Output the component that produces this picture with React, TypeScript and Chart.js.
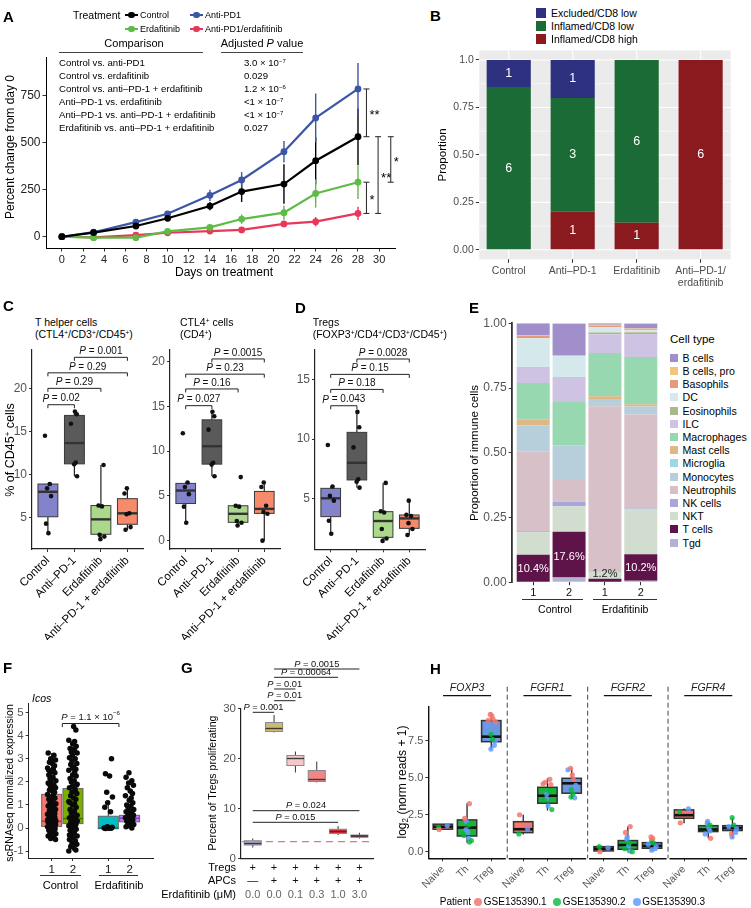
import React, { useEffect, useRef } from 'react';
import { Chart, registerables } from 'chart.js';

Chart.register(...registerables);

const FONT = "'Liberation Sans', Arial, Helvetica, sans-serif";
Chart.defaults.font.family = FONT;

// ======================= DATA =======================

// ---- Panel A: tumour growth ----
const A_TREATMENTS = ['Control', 'Anti-PD1', 'Erdafitinib', 'Anti-PD1/erdafitinib'];
const A_DAYS = [0, 3, 7, 10, 14, 17, 21, 24, 28];
const A_CONTROL = [0, 22, 57, 98, 163, 240, 280, 404, 532];
const A_ANTIPD1 = [0, 24, 78, 122, 220, 302, 452, 632, 786];
const A_ERDA = [0, -5, -5, 28, 50, 94, 128, 230, 290];
const A_COMBO = [0, -3, 9, 21, 30, 36, 68, 80, 124];
const A_CONTROL_SE = [0, 8, 12, 15, 22, 55, 105, 125, 150];
const A_ANTIPD1_SE = [0, 8, 10, 14, 30, 42, 57, 130, 138];
const A_ERDA_SE = [0, 5, 8, 10, 12, 25, 38, 75, 90];
const A_COMBO_SE = [0, 4, 6, 8, 10, 12, 15, 25, 35];
const A_X_TICKS = [0, 2, 4, 6, 8, 10, 12, 14, 16, 18, 20, 22, 24, 26, 28, 30];
const A_Y_TICKS = [0, 250, 500, 750];
const A_COMPARISONS = [
  'Control vs. anti-PD1',
  'Control vs. erdafitinib',
  'Control vs. anti–PD-1 + erdafitinib',
  'Anti–PD-1 vs. erdafitinib',
  'Anti–PD-1 vs. anti–PD-1 + erdafitinib',
  'Erdafitinib vs. anti–PD-1 + erdafitinib',
];
const A_ADJ_P = ['3.0 × 10^−7', '0.029', '1.2 × 10^−6', '<1 × 10^−7', '<1 × 10^−7', '0.027'];
const A_SIG_PAIRS = [[1, 0], [2, 3], [0, 3], [0, 2]];
const A_SIG_LABELS = ['**', '*', '**', '*'];

// ---- Panel B: immune phenotype counts ----
const B_GROUPS: any[] = ['Control', 'Anti–PD-1', 'Erdafitinib', ['Anti–PD-1/', 'erdafitinib']];
const B_EXCLUDED_LOW = [1, 1, 0, 0];
const B_INFLAMED_LOW = [6, 3, 6, 0];
const B_INFLAMED_HIGH = [0, 1, 1, 6];
const B_Y_TICKS = [0, 0.25, 0.5, 0.75, 1];
const B_Y_LABELS = ['0.00', '0.25', '0.50', '0.75', '1.0'];
const B_LEGEND = ['Excluded/CD8 low', 'Inflamed/CD8 low', 'Inflamed/CD8 high'];

// ---- Panels C / D: flow cytometry ----
const CD_GROUPS = ['Control', 'Anti–PD-1', 'Erdafitinib', 'Anti–PD-1 + erdafitinib'];
const TH_CONTROL = [14.5, 8.9, 8.4, 7.5, 4.3, 3.2];
const TH_ANTIPD1 = [17.3, 17.0, 15.9, 11.4, 11.2, 9.8];
const TH_ERDA = [11.1, 6.4, 6.3, 3.0, 2.8, 2.5];
const TH_COMBO = [8.4, 7.8, 5.5, 5.4, 3.9, 3.6];
const TH_LO = [3.2, 9.8, 2.5, 3.6];
const TH_Q1 = [5.1, 11.24, 3.07, 4.23];
const TH_MED = [8.0, 13.65, 4.8, 5.5];
const TH_Q3 = [8.9, 16.86, 6.4, 7.2];
const TH_HI = [8.9, 17.3, 11.1, 8.4];
const TH_P = ['0.02', '0.29', '0.29', '0.001'];
const TH_P_Y = [18.1, 20.0, 21.8, 23.6];
const TH_Y_TICKS = [5, 10, 15, 20];

const CTL_CONTROL = [12.0, 6.5, 6.0, 5.2, 3.8, 2.0];
const CTL_ANTIPD1 = [14.4, 13.9, 12.4, 8.7, 8.5, 7.2];
const CTL_ERDA = [7.1, 3.9, 3.8, 2.2, 2.0, 1.7];
const CTL_COMBO = [6.5, 6.0, 3.9, 3.2, 3.0, 0.0];
const CTL_LO = [2.0, 7.2, 1.7, 0.0];
const CTL_Q1 = [4.15, 8.55, 2.05, 3.05];
const CTL_MED = [5.6, 10.55, 3.0, 3.55];
const CTL_Q3 = [6.4, 13.5, 3.9, 5.5];
const CTL_HI = [6.5, 14.4, 3.9, 6.5];
const CTL_P = ['0.027', '0.16', '0.23', '0.0015'];
const CTL_P_Y = [15.08, 16.95, 18.6, 20.3];
const CTL_Y_TICKS = [0, 5, 10, 15, 20];

const TREG_CONTROL = [9.5, 6.0, 5.2, 4.8, 3.1, 2.0];
const TREG_ANTIPD1 = [12.3, 11.0, 9.3, 6.6, 6.4, 5.9];
const TREG_ERDA = [6.3, 3.9, 3.8, 2.4, 1.6, 1.4];
const TREG_COMBO = [4.8, 3.6, 3.5, 2.9, 2.4, 1.9];
const TREG_LO = [2.0, 5.9, 1.4, 1.9];
const TREG_Q1 = [3.45, 6.55, 1.7, 2.46];
const TREG_MED = [5.0, 8.0, 3.08, 3.3];
const TREG_Q3 = [5.84, 10.57, 3.87, 3.59];
const TREG_HI = [6.0, 12.3, 6.3, 4.8];
const TREG_P = ['0.043', '0.18', '0.15', '0.0028'];
const TREG_P_Y = [12.82, 14.2, 15.47, 16.77];
const TREG_Y_TICKS = [5, 10, 15];
const CD_P_PAIRS = [[1, 2], [1, 3], [1, 4], [2, 4]];

// ---- Panel E: immune composition ----
const E_SAMPLES = ['1', '2', '1', '2'];
const E_TYPES = ['B cells', 'B cells, pro', 'Basophils', 'DC', 'Eosinophils', 'ILC', 'Macrophages', 'Mast cells',
  'Microglia', 'Monocytes', 'Neutrophils', 'NK cells', 'NKT', 'T cells', 'Tgd'];
const E_B_CELLS = [0.047, 0.122, 0.006, 0.019];
const E_B_CELLS_PRO = [0.002, 0.002, 0.004, 0.003];
const E_BASOPHILS = [0.009, 0.002, 0.005, 0.004];
const E_DC = [0.1105, 0.081, 0.021, 0.008];
const E_EOSINOPHILS = [0, 0, 0.006, 0.006];
const E_ILC = [0.062, 0.0965, 0.073, 0.089];
const E_MACROPHAGES = [0.142, 0.167, 0.167, 0.183];
const E_MAST_CELLS = [0.022, 0, 0.01, 0.008];
const E_MICROGLIA = [0, 0, 0, 0];
const E_MONOCYTES = [0.1, 0.134, 0.028, 0.031];
const E_NEUTROPHILS = [0.308, 0.084, 0.639, 0.359];
const E_NK_CELLS = [0.004, 0.017, 0.001, 0.005];
const E_NKT = [0.0875, 0.099, 0.026, 0.176];
const E_T_CELLS = [0.104, 0.176, 0.012, 0.102];
const E_TGD = [0.002, 0.019, 0.002, 0.006];
const E_Y_TICKS = [0, 0.25, 0.5, 0.75, 1];
const E_SERIES = [E_B_CELLS, E_B_CELLS_PRO, E_BASOPHILS, E_DC, E_EOSINOPHILS, E_ILC, E_MACROPHAGES, E_MAST_CELLS,
  E_MICROGLIA, E_MONOCYTES, E_NEUTROPHILS, E_NK_CELLS, E_NKT, E_T_CELLS, E_TGD];

// ---- Panel F: Icos expression ----
const F_LABELS = ['1', '2', '1', '2'];
const F_CTRL1 = [3.25, 3.15, 3.0, 2.95, 2.85, 2.8, 2.7, 2.6, 2.55, 2.45, 2.4, 2.3, 2.2, 2.15, 2.05, 2.0, 1.95, 1.85, 1.8,
  1.75, 1.65, 1.6, 1.55, 1.45, 1.4, 1.35, 1.3, 1.25, 1.15, 1.1, 1.05, 1.0, 0.95, 0.9, 0.85, 0.8, 0.75, 0.7, 0.65, 0.6,
  0.55, 0.5, 0.45, 0.4, 0.35, 0.3, 0.3, 0.25, 0.25, 0.2, 0.2, 0.15, 0.1, 0.1, 0.05, 0.05, 0.0, 0.0, -0.05, -0.1, -0.15,
  -0.2, -0.25, -0.3, -0.35, -0.4, -0.45, -0.5, 1.9, 1.2, 0.6, 0.35, 0.15, 0.05, 0.0, 2.5, 1.7, 0.9];
const F_CTRL2 = [4.4, 4.25, 3.8, 3.75, 3.65, 3.55, 3.45, 3.4, 3.3, 3.25, 3.15, 3.05, 3.0, 2.9, 2.8, 2.75, 2.65, 2.55, 2.5,
  2.4, 2.3, 2.25, 2.15, 2.05, 2.0, 1.9, 1.8, 1.75, 1.65, 1.55, 1.5, 1.4, 1.3, 1.25, 1.15, 1.05, 1.0, 0.9, 0.8, 0.75, 0.65,
  0.55, 0.5, 0.45, 0.4, 0.35, 0.3, 0.25, 0.2, 0.15, 0.1, 0.05, 0.0, -0.05, -0.1, -0.2, -0.25, -0.35, -0.4, -0.5, -0.55,
  -0.65, -0.7, -0.8, -0.85, -0.95, -1.0, 3.35, 2.6, 1.85, 1.1, 0.7, 0.45, 0.3, 0.1, -0.3, -0.6];
const F_ERDA1 = [3.0, 2.35, 2.25, 1.55, 1.35, 1.1, 0.9, 0.7, 0.05, 0.03, 0.02, 0.0, 0.0, 0.0, 0.0, 0.0, 0.0, -0.02];
const F_ERDA2 = [2.4, 2.2, 2.05, 1.95, 1.85, 1.75, 1.6, 1.5, 1.4, 1.3, 1.2, 1.1, 1.0, 0.95, 0.9, 0.8, 0.75, 0.7, 0.65,
  0.6, 0.55, 0.5, 0.5, 0.45, 0.45, 0.4, 0.4, 0.35, 0.3, 0.25, 0.2, 0.15, 0.1, 0.05, 0.0];
const F_LO = [-0.5, -1.0, -0.05, 0.0];
const F_Q1 = [0.07, 0.19, -0.03, 0.27];
const F_MED = [0.29, 0.41, 0.0, 0.42];
const F_Q3 = [1.46, 1.71, 0.51, 0.55];
const F_HI = [3.25, 3.8, 1.2, 0.9];
const F_Y_TICKS = [-1, 0, 1, 2, 3, 4, 5];
const F_P_MANT = '1.1';
const F_P_EXP = '−6';
const F_P_Y = 4.53;

// ---- Panel G: Treg proliferation ----
const G_TREGS = ['+', '+', '+', '+', '+', '+'];
const G_APCS = ['—', '+', '+', '+', '+', '+'];
const G_DOSE = ['0.0', '0.0', '0.1', '0.3', '1.0', '3.0'];
const G_LO = [2.2, 25.2, 17.2, 15.2, 4.7, 4.0];
const G_Q1 = [2.7, 25.4, 18.6, 15.4, 5.0, 4.25];
const G_MED = [3.0, 26.0, 20.0, 15.8, 5.4, 4.5];
const G_Q3 = [3.55, 27.2, 20.6, 17.6, 5.85, 4.7];
const G_HI = [4.0, 28.7, 21.4, 19.4, 6.5, 5.15];
const G_BASELINE = 3.37;
const G_Y_TICKS = [0, 10, 20, 30];
const G_P_PAIRS = [[1, 2], [2, 3], [2, 3], [2, 5], [2, 6], [1, 5], [1, 6]];
const G_P = ['0.001', '0.01', '0.01', '0.00064', '0.0015', '0.015', '0.024'];
const G_P_Y = [29.24, 31.56, 33.9, 36.24, 37.9, 7.24, 9.56];

// ---- Panel H: FGFR expression in human T cells ----
const H_GENES = ['FOXP3', 'FGFR1', 'FGFR2', 'FGFR4'];
const H_CELLS = ['Naive', 'Th', 'Treg'];
const H_PATIENTS = ['GSE135390.1', 'GSE135390.2', 'GSE135390.3'];
const H_LO = [[1.47, 0.61, 6.94], [1.17, 2.78, 3.6], [0.0, 0.0, 0.07], [1.93, 0.9, 0.95]];
const H_Q1 = [[1.52, 1.06, 7.45], [1.29, 3.28, 3.96], [0.05, 0.16, 0.23], [2.26, 1.36, 1.43]];
const H_MED = [[1.69, 1.63, 7.79], [1.52, 3.79, 4.63], [0.2, 0.45, 0.39], [2.47, 1.5, 1.6]];
const H_Q3 = [[1.86, 2.15, 8.88], [2.03, 4.36, 4.97], [0.34, 0.75, 0.61], [2.83, 1.76, 1.76]];
const H_HI = [[1.88, 3.28, 9.42], [2.5, 4.97, 5.65], [0.36, 1.7, 1.0], [2.92, 2.05, 2.3]];
const H_P1 = [[[1.5], [3.25, 2.25], [9.3, 9.2, 9.0, 8.9, 8.8]], [[2.5], [4.9, 4.7, 4.6, 4.55], [5.65, 5.2, 4.9]],
  [[0.0], [1.7, 1.3], [1.0, 0.9]], [[1.95], [0.9], [1.2]]];
const H_P2 = [[[1.65], [1.8, 1.1, 0.75, 0.65], [7.95, 7.6]], [[1.2], [4.1, 3.5, 2.85], [4.2, 3.9, 3.7]],
  [[0.35], [0.6, 0.2, 0.0], [0.75, 0.6]], [[2.7], [1.8], [2.3, 1.8]]];
const H_P3 = [[[1.75], [2.05, 1.5, 1.3, 0.9], [8.5, 7.5, 7.2, 6.95]], [[1.55], [3.9, 3.6, 3.1], [5.55, 4.5, 3.65]],
  [[0.25], [1.0, 0.85, 0.4, 0.05], [0.5, 0.35, 0.2, 0.1]], [[2.9], [2.05, 1.9, 1.6, 1.4, 1.2], [1.7, 1.55, 1.3, 1.0]]];
const H_Y_TICKS = [0, 2.5, 5, 7.5];

// ======================= STYLE =======================
const A_COLORS = ['#000000', '#3C55A5', '#5DBB46', '#E8385A'];
const A_SIG_X = [28.8, 28.8, 29.9, 31.1];
const B_COLORS = ['#2E3180', '#1B6B36', '#8B1A1E'];
const CD_FILLS = ['#8383CC', '#5A5A5A', '#AAD98C', '#F58B6B'];
const E_COLORS = ['#A08FCB', '#F2C57C', '#E59B7A', '#D5E8EC', '#A9B98A', '#CFC3E3', '#97D8B0', '#DDB884',
  '#9BD9E8', '#B6CFDA', '#D8C0C9', '#A9A6DA', '#D0DDCF', '#5E1448', '#B4B1D5'];
const F_FILLS = ['#F8766D', '#7CAE00', '#00BFC4', '#C77CFF'];
const F_MEDS = ['#A2463F', '#4D7000', '#00797D', '#7E4AA6'];
const G_FILLS = ['#A5B0D8', '#CBBB72', '#F6C8C9', '#F08686', '#E3262C', '#A11D22'];
const H_FILLS = ['#F8766D', '#1DB33D', '#6A98DE'];
const H_PT_COLORS = ['rgba(248,118,109,0.85)', 'rgba(0,186,56,0.8)', 'rgba(97,156,255,0.85)'];
const H_STEP = 3.32;
const JITTER = [-0.11, 0.07, -0.03, 0.12, -0.07, 0.02, 0.09, -0.13, 0.05, -0.01, 0.1, -0.09, 0.04, -0.05, 0.13, -0.02];

type Rect = { x: number; y: number; w: number; h: number };
type P = { x0: number; y0: number; x1: number; y1: number };

const A_CANVAS: Rect = { x: 0, y: 0, w: 400, h: 290 };
const A_PLOT: P = { x0: 46, y0: 57, x1: 395, y1: 248 };
const B_CANVAS: Rect = { x: 400, y: 40, w: 345, h: 255 };
const B_PLOT: P = { x0: 479.3, y0: 50.5, x1: 730.7, y1: 259.3 };
const C1_CANVAS: Rect = { x: 0, y: 340, w: 150, h: 300 };
const C1_PLOT: P = { x0: 32, y0: 350, x1: 143.3, y1: 549 };
const C2_CANVAS: Rect = { x: 150, y: 340, w: 140, h: 300 };
const C2_PLOT: P = { x0: 170, y0: 350, x1: 280, y1: 549 };
const D_CANVAS: Rect = { x: 290, y: 340, w: 150, h: 300 };
const D_PLOT: P = { x0: 315, y0: 350, x1: 425, y1: 549.3 };
const E_CANVAS: Rect = { x: 460, y: 315, w: 205, h: 290 };
const E_PLOT: P = { x0: 511.7, y0: 323.3, x1: 662.3, y1: 582.3 };
const F_CANVAS: Rect = { x: 0, y: 690, w: 160, h: 200 };
const F_PLOT: P = { x0: 28.7, y0: 703, x1: 153, y1: 858 };
const G_CANVAS: Rect = { x: 150, y: 650, w: 230, h: 258 };
const G_PLOT: P = { x0: 241, y0: 708.5, x1: 373.3, y1: 858.5 };
const H_CANVAS: Rect = { x: 380, y: 676, w: 371, h: 222 };
const H_PLOT: P = { x0: 428.3, y0: 706.7, x1: 750.9, y1: 858.3 };

// ======================= HELPERS =======================
function base(c: Rect, p: P) {
  return {
    responsive: false,
    maintainAspectRatio: false,
    animation: false,
    devicePixelRatio: 1,
    events: [],
    layout: { padding: { left: 0, top: p.y0 - c.y, right: c.x + c.w - p.x1, bottom: 0 } },
    plugins: { legend: { display: false }, tooltip: { enabled: false }, title: { display: false } },
  };
}
const fixY = (w: number) => (s: any) => { s.width = w; s.paddingTop = 0; s.paddingBottom = 0; s.paddingLeft = 0; s.paddingRight = 0; };
const fixX = (h: number) => (s: any) => { s.height = h; s.paddingTop = 0; s.paddingBottom = 0; s.paddingLeft = 0; s.paddingRight = 0; };

function axis(o: any) {
  const tl = o.tickLen ?? 3;
  return {
    type: 'linear',
    min: o.min, max: o.max, bounds: 'data', offset: false, stacked: !!o.stacked,
    grid: { display: tl > 0, drawOnChartArea: false, drawTicks: true, tickLength: tl, color: o.tickColor ?? '#333', lineWidth: 1, offset: false },
    border: { display: o.border !== false, color: o.borderColor ?? '#000', width: o.borderWidth ?? 1 },
    ticks: {
      display: o.labels !== false,
      autoSkip: false, maxRotation: o.rot ?? 0, minRotation: o.rot ?? 0, padding: o.pad ?? 2,
      font: { size: o.size ?? 11, family: FONT, lineHeight: 1.15 },
      color: o.color ?? '#000',
      callback: (v: number, i: number) => (o.fmt ? o.fmt(v, i) : String(v)),
    },
    afterBuildTicks: (s: any) => { s.ticks = o.ticks.map((v: number) => ({ value: v })); },
    afterFit: o.fit,
  };
}

type Seg = { t: string; i?: boolean; sup?: boolean };
function rich(ctx: any, x: number, y: number, segs: Seg[], size: number, color: string, align = 'center') {
  const fontOf = (s: Seg) => `${s.i ? 'italic ' : ''}${s.sup ? size * 0.65 : size}px ${FONT}`;
  const widths = segs.map((s) => { ctx.font = fontOf(s); return ctx.measureText(s.t).width; });
  const total = widths.reduce((a, b) => a + b, 0);
  let cx = align === 'center' ? x - total / 2 : align === 'right' ? x - total : x;
  ctx.textAlign = 'left';
  ctx.textBaseline = 'middle';
  ctx.fillStyle = color;
  segs.forEach((s, k) => {
    ctx.font = fontOf(s);
    ctx.fillText(s.t, cx, s.sup ? y - size * 0.38 : y);
    cx += widths[k];
  });
}
const pSegs = (p: string): Seg[] => [{ t: 'P', i: true }, { t: ' = ' + p }];

type Box = { x: number; lo: number; q1: number; med: number; q3: number; hi: number; fill: string; medColor?: string };
type BoxStyle = { w: number; edge: string; edgeW: number; med: string; medW: number; whisk: string; whiskW: number };
function drawBoxes(chart: any, boxes: Box[], st: BoxStyle) {
  const { ctx, scales } = chart;
  const xs = scales.x;
  const ys = scales.y;
  ctx.save();
  for (const b of boxes) {
    const xc = xs.getPixelForValue(b.x);
    const hw = Math.abs(xs.getPixelForValue(b.x + st.w / 2) - xc);
    const lo = ys.getPixelForValue(b.lo);
    const q1 = ys.getPixelForValue(b.q1);
    const md = ys.getPixelForValue(b.med);
    const q3 = ys.getPixelForValue(b.q3);
    const hi = ys.getPixelForValue(b.hi);
    ctx.strokeStyle = st.whisk;
    ctx.lineWidth = st.whiskW;
    ctx.beginPath();
    ctx.moveTo(xc, q3); ctx.lineTo(xc, hi);
    ctx.moveTo(xc, q1); ctx.lineTo(xc, lo);
    ctx.stroke();
    ctx.fillStyle = b.fill;
    ctx.fillRect(xc - hw, q3, 2 * hw, q1 - q3);
    ctx.strokeStyle = st.edge;
    ctx.lineWidth = st.edgeW;
    ctx.strokeRect(xc - hw, q3, 2 * hw, q1 - q3);
    ctx.strokeStyle = b.medColor ?? st.med;
    ctx.lineWidth = st.medW;
    ctx.beginPath();
    ctx.moveTo(xc - hw, md); ctx.lineTo(xc + hw, md);
    ctx.stroke();
  }
  ctx.restore();
}
function mkBoxes(xs: number[], lo: number[], q1: number[], med: number[], q3: number[], hi: number[], fills: string[], meds?: string[]): Box[] {
  return xs.map((x, i) => ({ x, lo: lo[i], q1: q1[i], med: med[i], q3: q3[i], hi: hi[i], fill: fills[i], medColor: meds ? meds[i] : undefined }));
}
function jitterPts(groups: number[][], xs: number[], spread: number) {
  const out: any[] = [];
  groups.forEach((vals, g) => vals.forEach((v, i) => out.push({ x: xs[g] + JITTER[(i + g * 5) % JITTER.length] * spread, y: v })));
  return out;
}
function drawBracket(chart: any, x1v: number, x2v: number, yv: number, tick: number, segs: Seg[], size: number, gap: number) {
  const { ctx, scales: { x, y } } = chart;
  const x1 = x.getPixelForValue(x1v);
  const x2 = x.getPixelForValue(x2v);
  const yy = y.getPixelForValue(yv);
  ctx.save();
  ctx.strokeStyle = '#222';
  ctx.lineWidth = 1;
  ctx.beginPath();
  ctx.moveTo(x1, yy + tick); ctx.lineTo(x1, yy); ctx.lineTo(x2, yy); ctx.lineTo(x2, yy + tick);
  ctx.stroke();
  rich(ctx, (x1 + x2) / 2, yy - gap, segs, size, '#111');
  ctx.restore();
}

// ======================= CHART CONFIGS =======================
function makeA(c: Rect, p: P) {
  const series = [A_CONTROL, A_ANTIPD1, A_ERDA, A_COMBO];
  const errs = [A_CONTROL_SE, A_ANTIPD1_SE, A_ERDA_SE, A_COMBO_SE];
  return {
    type: 'scatter',
    data: {
      datasets: series.map((vals, k) => ({
        label: A_TREATMENTS[k],
        data: A_DAYS.map((d, i) => ({ x: d, y: vals[i] })),
        showLine: true,
        borderColor: A_COLORS[k],
        backgroundColor: A_COLORS[k],
        borderWidth: 2.2,
        pointRadius: 3.4,
        pointBorderWidth: 0,
        clip: false,
      })),
    },
    options: {
      ...base(c, p),
      scales: {
        x: axis({ min: -1.5, max: 31.5, ticks: A_X_TICKS, size: 11, color: '#222', fit: fixX(c.y + c.h - p.y1), tickLen: 3.5 }),
        y: axis({ min: -60, max: 956, ticks: A_Y_TICKS, size: 12, color: '#222', fit: fixY(p.x0 - c.x), tickLen: 3.5 }),
      },
    },
    plugins: [{
      id: 'aExtras',
      beforeDatasetsDraw(chart: any) {
        const { ctx, scales: { x, y } } = chart;
        ctx.save();
        ctx.lineWidth = 1.4;
        series.forEach((vals, k) => {
          ctx.strokeStyle = A_COLORS[k];
          A_DAYS.forEach((d, i) => {
            const e = errs[k][i];
            if (!e) return;
            const px = x.getPixelForValue(d);
            ctx.beginPath();
            ctx.moveTo(px, y.getPixelForValue(vals[i] - e));
            ctx.lineTo(px, y.getPixelForValue(vals[i] + e));
            ctx.stroke();
          });
        });
        ctx.restore();
      },
      afterDatasetsDraw(chart: any) {
        const { ctx, scales: { x, y } } = chart;
        const last = A_DAYS.length - 1;
        ctx.save();
        A_SIG_PAIRS.forEach(([a, b], k) => {
          const px = x.getPixelForValue(A_SIG_X[k]);
          const ya = y.getPixelForValue(series[a][last]);
          const yb = y.getPixelForValue(series[b][last]);
          ctx.strokeStyle = '#222';
          ctx.lineWidth = 1;
          ctx.beginPath();
          ctx.moveTo(px - 3, ya); ctx.lineTo(px + 3, ya);
          ctx.moveTo(px, ya); ctx.lineTo(px, yb);
          ctx.moveTo(px - 3, yb); ctx.lineTo(px + 3, yb);
          ctx.stroke();
          ctx.fillStyle = '#000';
          ctx.font = `13px ${FONT}`;
          ctx.textAlign = 'left';
          ctx.textBaseline = 'middle';
          ctx.fillText(A_SIG_LABELS[k], px + 3, (ya + yb) / 2 + 3);
        });
        ctx.restore();
      },
    }],
  };
}

function makeB(c: Rect, p: P) {
  const totals = B_GROUPS.map((_, i) => B_EXCLUDED_LOW[i] + B_INFLAMED_LOW[i] + B_INFLAMED_HIGH[i]);
  const layers = [
    { label: B_LEGEND[2], counts: B_INFLAMED_HIGH, color: B_COLORS[2] },
    { label: B_LEGEND[1], counts: B_INFLAMED_LOW, color: B_COLORS[1] },
    { label: B_LEGEND[0], counts: B_EXCLUDED_LOW, color: B_COLORS[0] },
  ];
  return {
    type: 'bar',
    data: {
      datasets: layers.map((l) => ({
        label: l.label,
        data: l.counts.map((n, i) => ({ x: i + 1, y: n / totals[i] })),
        backgroundColor: l.color,
        borderWidth: 0,
        barPercentage: 0.69,
        categoryPercentage: 1,
      })),
    },
    options: {
      ...base(c, p),
      scales: {
        x: axis({ min: 0.54, max: 4.47, ticks: [1, 2, 3, 4], stacked: true, size: 10.5, color: '#4D4D4D', border: false,
          fmt: (_v: number, i: number) => B_GROUPS[i], fit: fixX(c.y + c.h - p.y1), tickLen: 3.5, pad: 2 }),
        y: axis({ min: -0.05, max: 1.05, ticks: B_Y_TICKS, stacked: true, size: 10.5, color: '#4D4D4D', border: false,
          fmt: (_v: number, i: number) => B_Y_LABELS[i], fit: fixY(p.x0 - c.x), tickLen: 3.5, pad: 2 }),
      },
    },
    plugins: [{
      id: 'bPanel',
      beforeDraw(chart: any) {
        const { ctx, chartArea: a } = chart;
        ctx.save();
        ctx.fillStyle = '#EBEBEB';
        ctx.fillRect(a.left, a.top, a.width, a.height);
        ctx.restore();
      },
      beforeDatasetsDraw(chart: any) {
        const { ctx, chartArea: a, scales: { x, y } } = chart;
        ctx.save();
        ctx.strokeStyle = '#FFFFFF';
        ctx.lineWidth = 0.6;
        [0.125, 0.375, 0.625, 0.875].forEach((v) => {
          const py = y.getPixelForValue(v);
          ctx.beginPath(); ctx.moveTo(a.left, py); ctx.lineTo(a.right, py); ctx.stroke();
        });
        ctx.lineWidth = 1.1;
        B_Y_TICKS.forEach((v) => {
          const py = y.getPixelForValue(v);
          ctx.beginPath(); ctx.moveTo(a.left, py); ctx.lineTo(a.right, py); ctx.stroke();
        });
        [1, 2, 3, 4].forEach((v) => {
          const px = x.getPixelForValue(v);
          ctx.beginPath(); ctx.moveTo(px, a.top); ctx.lineTo(px, a.bottom); ctx.stroke();
        });
        ctx.restore();
      },
      afterDatasetsDraw(chart: any) {
        const { ctx } = chart;
        ctx.save();
        ctx.fillStyle = '#FFFFFF';
        ctx.font = `12.5px ${FONT}`;
        ctx.textAlign = 'center';
        ctx.textBaseline = 'middle';
        layers.forEach((l, di) => {
          const meta = chart.getDatasetMeta(di);
          l.counts.forEach((n, i) => {
            if (!n) return;
            const el = meta.data[i];
            ctx.fillText(String(n), el.x, (el.y + el.base) / 2);
          });
        });
        ctx.restore();
      },
    }],
  };
}

function makeBoxPanel(c: Rect, p: P, o: any) {
  return {
    type: 'scatter',
    data: {
      datasets: o.pointSets.map((s: any) => ({
        data: s.pts,
        backgroundColor: s.color,
        borderWidth: 0,
        pointBorderWidth: 0,
        pointRadius: s.radius,
        clip: false,
      })),
    },
    options: {
      ...base(c, p),
      scales: {
        x: axis({ min: o.xMin, max: o.xMax, ticks: o.xTicks, size: o.xSize, color: o.xColor, rot: o.xRot ?? 0,
          fmt: (_v: number, i: number) => o.xLabels[i], fit: fixX(c.y + c.h - p.y1), tickLen: o.xTickLen ?? 3,
          border: o.xBorder !== false, labels: o.xLabelsShow !== false, pad: o.xPad ?? 2, borderColor: o.borderColor, borderWidth: o.borderWidth }),
        y: axis({ min: o.yMin, max: o.yMax, ticks: o.yTicks, size: o.ySize, color: o.yColor,
          fmt: o.yFmt, fit: fixY(p.x0 - c.x), tickLen: 3, pad: 2, borderColor: o.borderColor, borderWidth: o.borderWidth }),
      },
    },
    plugins: [{
      id: 'boxes',
      beforeDatasetsDraw(chart: any) {
        drawBoxes(chart, o.boxes, o.boxStyle);
        if (o.before) o.before(chart);
      },
      afterDraw(chart: any) {
        if (o.after) o.after(chart);
      },
    }],
  };
}

const CD_X = [1, 2, 3, 4];
const CD_BOX_STYLE: BoxStyle = { w: 0.75, edge: '#3A3A3A', edgeW: 1, med: '#333', medW: 2.4, whisk: '#222', whiskW: 1.2 };

function makeCD(c: Rect, p: P, d: any) {
  return makeBoxPanel(c, p, {
    xMin: 0.4, xMax: 4.6, xTicks: CD_X, xLabels: CD_GROUPS, xSize: 11.5, xColor: '#000', xRot: 45,
    yMin: d.yMin, yMax: d.yMax, yTicks: d.yTicks, ySize: 12, yColor: '#555',
    borderColor: '#222', borderWidth: 1.2,
    boxes: mkBoxes(CD_X, d.lo, d.q1, d.med, d.q3, d.hi, CD_FILLS),
    boxStyle: CD_BOX_STYLE,
    pointSets: [{ pts: jitterPts(d.groups, CD_X, 1), color: '#111', radius: 2.3 }],
    after: (chart: any) => {
      CD_P_PAIRS.forEach(([a, b], k) => drawBracket(chart, a, b, d.pY[k], 3.5, pSegs(d.p[k]), 10, 6));
    },
  });
}

function makeE(c: Rect, p: P) {
  const order = E_SERIES.map((_, i) => i).reverse();
  return {
    type: 'bar',
    data: {
      datasets: order.map((k) => ({
        label: E_TYPES[k],
        data: E_SERIES[k].map((v, i) => ({ x: i + 1, y: v })),
        backgroundColor: E_COLORS[k],
        borderWidth: 0,
        barPercentage: 0.92,
        categoryPercentage: 1,
      })),
    },
    options: {
      ...base(c, p),
      scales: {
        x: axis({ min: 0.4, max: 4.6, ticks: [1, 2, 3, 4], stacked: true, size: 11, color: '#111', border: false,
          fmt: (_v: number, i: number) => E_SAMPLES[i], fit: fixX(c.y + c.h - p.y1), tickLen: 3, pad: 1 }),
        y: axis({ min: 0, max: 1, ticks: E_Y_TICKS, stacked: true, size: 12, color: '#555', borderColor: '#333', borderWidth: 1.8,
          fmt: (v: number) => v.toFixed(2), fit: fixY(p.x0 - c.x), tickLen: 3, pad: 2 }),
      },
    },
    plugins: [{
      id: 'eLabels',
      afterDatasetsDraw(chart: any) {
        const { ctx, scales: { x, y } } = chart;
        ctx.save();
        ctx.font = `11px ${FONT}`;
        ctx.textAlign = 'center';
        ctx.textBaseline = 'middle';
        E_T_CELLS.forEach((t, i) => {
          const yv = Math.max((E_TGD[i] + t) / 2, 0.031);
          ctx.fillStyle = t > 0.05 ? '#FFFFFF' : '#222';
          ctx.fillText((t * 100).toFixed(1) + '%', x.getPixelForValue(i + 1), y.getPixelForValue(yv));
        });
        ctx.restore();
      },
    }],
  };
}

const F_X = [1, 2, 3.66, 4.66];
function makeF(c: Rect, p: P) {
  const groups = [F_CTRL1, F_CTRL2, F_ERDA1, F_ERDA2];
  return makeBoxPanel(c, p, {
    xMin: -0.08, xMax: 5.76, xTicks: F_X, xLabels: F_LABELS, xSize: 11.5, xColor: '#111', xRot: 0,
    yMin: -1.3, yMax: 5.42, yTicks: F_Y_TICKS, ySize: 11.5, yColor: '#555',
    borderColor: '#222', borderWidth: 1,
    boxes: mkBoxes(F_X, F_LO, F_Q1, F_MED, F_Q3, F_HI, F_FILLS, F_MEDS),
    boxStyle: { w: 0.94, edge: '#666', edgeW: 1, med: '#333', medW: 1.6, whisk: '#222', whiskW: 1 },
    pointSets: [{ pts: jitterPts(groups, F_X, 1.5), color: '#0A0A0A', radius: 2.75 }],
    after: (chart: any) => {
      const l = (F_X[0] + F_X[1]) / 2;
      const r = (F_X[2] + F_X[3]) / 2;
      drawBracket(chart, l, r, F_P_Y, 3.5,
        [{ t: 'P', i: true }, { t: ` = ${F_P_MANT} × 10` }, { t: F_P_EXP, sup: true }], 9.5, 6.5);
    },
  });
}

const G_X = [1, 2, 3, 4, 5, 6];
function makeG(c: Rect, p: P) {
  return makeBoxPanel(c, p, {
    xMin: 0.45, xMax: 6.65, xTicks: G_X, xLabels: G_DOSE, xSize: 10, xColor: '#000', xLabelsShow: false, xTickLen: 0,
    yMin: 0, yMax: 30, yTicks: G_Y_TICKS, ySize: 11.5, yColor: '#555',
    borderColor: '#222', borderWidth: 1.2,
    boxes: mkBoxes(G_X, G_LO, G_Q1, G_MED, G_Q3, G_HI, G_FILLS),
    boxStyle: { w: 0.8, edge: '#8A8A8A', edgeW: 1, med: '#3A3A3A', medW: 1.4, whisk: '#333', whiskW: 1 },
    pointSets: [],
    before: (chart: any) => {
      const { ctx, chartArea: a, scales: { y } } = chart;
      const py = y.getPixelForValue(G_BASELINE);
      ctx.save();
      ctx.strokeStyle = '#D6789E';
      ctx.lineWidth = 1.4;
      ctx.setLineDash([7, 5]);
      ctx.beginPath(); ctx.moveTo(a.left + 1, py); ctx.lineTo(a.right, py); ctx.stroke();
      ctx.restore();
    },
    after: (chart: any) => {
      const { ctx, chartArea: a, scales: { x } } = chart;
      G_P_PAIRS.forEach(([l, r], k) => drawBracket(chart, l, r, G_P_Y[k], 0, pSegs(G_P[k]), 9.3, 5));
      const rows = [
        { label: 'Tregs', vals: G_TREGS, color: '#111', dy: 9 },
        { label: 'APCs', vals: G_APCS, color: '#111', dy: 22.5 },
        { label: 'Erdafitinib (μM)', vals: G_DOSE, color: '#666', dy: 36 },
      ];
      ctx.save();
      ctx.textBaseline = 'middle';
      rows.forEach((r) => {
        const yy = a.bottom + r.dy;
        ctx.font = `11px ${FONT}`;
        ctx.textAlign = 'right';
        ctx.fillStyle = '#000';
        ctx.fillText(r.label, a.left - 5, yy);
        ctx.textAlign = 'center';
        ctx.fillStyle = r.color;
        ctx.font = `11px ${FONT}`;
        r.vals.forEach((v, i) => ctx.fillText(v, x.getPixelForValue(G_X[i]), yy));
      });
      ctx.restore();
    },
  });
}

function makeH(c: Rect, p: P) {
  const xs: number[] = [];
  const labels: string[] = [];
  const boxes: Box[] = [];
  H_GENES.forEach((_, g) => H_CELLS.forEach((cell, k) => {
    const xv = g * H_STEP + k + 1;
    xs.push(xv);
    labels.push(cell);
    boxes.push({ x: xv, lo: H_LO[g][k], q1: H_Q1[g][k], med: H_MED[g][k], q3: H_Q3[g][k], hi: H_HI[g][k], fill: H_FILLS[k] });
  }));
  const patientSets = [H_P1, H_P2, H_P3].map((pat, pi) => {
    const pts: any[] = [];
    pat.forEach((gene, g) => gene.forEach((vals, k) => vals.forEach((v, i) => {
      pts.push({ x: g * H_STEP + k + 1 + JITTER[(i * 3 + pi * 7 + k) % JITTER.length] * 1.4, y: v });
    })));
    return { pts, color: H_PT_COLORS[pi], radius: 2.6 };
  });
  return makeBoxPanel(c, p, {
    xMin: 0.4, xMax: 3 * H_STEP + 3.6, xTicks: xs, xLabels: labels, xSize: 10.5, xColor: '#555', xRot: 45, xBorder: false,
    yMin: -0.45, yMax: 9.82, yTicks: H_Y_TICKS, ySize: 11, yColor: '#555', yFmt: (v: number) => v.toFixed(1),
    borderColor: '#111', borderWidth: 1.4,
    boxes,
    boxStyle: { w: 0.8, edge: '#333', edgeW: 1.5, med: '#111', medW: 2.6, whisk: '#222', whiskW: 1.3 },
    pointSets: patientSets,
    after: (chart: any) => {
      const { ctx, chartArea: a, scales: { x } } = chart;
      ctx.save();
      H_GENES.forEach((gene, k) => {
        const off = k * H_STEP;
        const l = x.getPixelForValue(off + 0.4);
        const r = x.getPixelForValue(off + 3.6);
        const cx = (l + r) / 2;
        ctx.strokeStyle = '#111';
        ctx.lineWidth = 1.4;
        ctx.beginPath(); ctx.moveTo(l, a.bottom + 0.5); ctx.lineTo(r, a.bottom + 0.5); ctx.stroke();
        ctx.fillStyle = '#222';
        ctx.font = `italic 10.5px ${FONT}`;
        ctx.textAlign = 'center';
        ctx.textBaseline = 'middle';
        ctx.fillText(gene, cx, a.top - 18.5);
        ctx.lineWidth = 1.2;
        ctx.beginPath(); ctx.moveTo(cx - 24, a.top - 11); ctx.lineTo(cx + 24, a.top - 11); ctx.stroke();
        if (k < H_GENES.length - 1) {
          const sx = x.getPixelForValue(off + 3.6 + (H_STEP - 3.2) / 2);
          ctx.strokeStyle = '#444';
          ctx.lineWidth = 1;
          ctx.setLineDash([5, 3]);
          ctx.beginPath(); ctx.moveTo(sx, a.top - 20); ctx.lineTo(sx, a.bottom); ctx.stroke();
          ctx.setLineDash([]);
        }
      });
      ctx.restore();
    },
  });
}

// ======================= REACT =======================
function ChartCanvas({ rect, plot, make }: { rect: Rect; plot: P; make: (c: Rect, p: P) => any }) {
  const ref = useRef<HTMLCanvasElement>(null);
  useEffect(() => {
    const chart = new Chart(ref.current as HTMLCanvasElement, make(rect, plot));
    return () => chart.destroy();
  }, []);
  return (
    <canvas ref={ref} width={rect.w} height={rect.h}
      style={{ position: 'absolute', left: rect.x, top: rect.y, width: rect.w, height: rect.h }} />
  );
}

function Txt({ x, y, size = 11, anchor = 'start', color = '#000', bold = false, italic = false, children }: any) {
  const tx = anchor === 'middle' ? '-50%' : anchor === 'end' ? '-100%' : '0';
  return (
    <div style={{ position: 'absolute', left: x, top: y, transform: `translate(${tx}, -50%)`, fontSize: size, color,
      fontWeight: bold ? 700 : 400, fontStyle: italic ? 'italic' : 'normal', whiteSpace: 'nowrap', lineHeight: 1 }}>
      {children}
    </div>
  );
}
function VTxt({ x, y, size = 11, color = '#000', children }: any) {
  return (
    <div style={{ position: 'absolute', left: x, top: y, transform: 'translate(-50%, -50%) rotate(-90deg)', fontSize: size,
      color, whiteSpace: 'nowrap', lineHeight: 1 }}>
      {children}
    </div>
  );
}
const Sup = ({ children }: any) => <sup style={{ fontSize: '0.62em', lineHeight: 0, verticalAlign: '0.5em' }}>{children}</sup>;
const Sub = ({ children }: any) => <sub style={{ fontSize: '0.68em', lineHeight: 0, verticalAlign: '-0.3em' }}>{children}</sub>;
const HLine = ({ x, y, w, color = '#444', h = 1 }: any) => (
  <div style={{ position: 'absolute', left: x, top: y, width: w, height: h, background: color }} />
);
function LegSym({ x, y, color }: any) {
  return (
    <>
      <div style={{ position: 'absolute', left: x - 6.5, top: y - 1, width: 13, height: 2, background: color }} />
      <div style={{ position: 'absolute', left: x - 3.3, top: y - 3.3, width: 6.6, height: 6.6, borderRadius: '50%', background: color }} />
    </>
  );
}
function pVal(s: string) {
  const [m, e] = s.split('^');
  return e ? <>{m}<Sup>{e}</Sup></> : <>{m}</>;
}

const A_ROW_Y = [63, 76, 89, 102, 115, 128];
const E_LEG_Y0 = 357.7;
const E_LEG_DY = 13.2;
const H_LEG_X = [478.3, 557.3, 636.7];

export default function App() {
  return (
    <div style={{ position: 'absolute', left: 0, top: 0, width: 751, height: 908, overflow: 'hidden', background: '#fff',
      fontFamily: FONT, color: '#000' }}>
      <ChartCanvas rect={A_CANVAS} plot={A_PLOT} make={makeA} />
      <ChartCanvas rect={B_CANVAS} plot={B_PLOT} make={makeB} />
      <ChartCanvas rect={C1_CANVAS} plot={C1_PLOT} make={(c, p) => makeCD(c, p, {
        yMin: 1.36, yMax: 24.45, yTicks: TH_Y_TICKS, groups: [TH_CONTROL, TH_ANTIPD1, TH_ERDA, TH_COMBO],
        lo: TH_LO, q1: TH_Q1, med: TH_MED, q3: TH_Q3, hi: TH_HI, p: TH_P, pY: TH_P_Y })} />
      <ChartCanvas rect={C2_CANVAS} plot={C2_PLOT} make={(c, p) => makeCD(c, p, {
        yMin: -0.93, yMax: 21.3, yTicks: CTL_Y_TICKS, groups: [CTL_CONTROL, CTL_ANTIPD1, CTL_ERDA, CTL_COMBO],
        lo: CTL_LO, q1: CTL_Q1, med: CTL_MED, q3: CTL_Q3, hi: CTL_HI, p: CTL_P, pY: CTL_P_Y })} />
      <ChartCanvas rect={D_CANVAS} plot={D_PLOT} make={(c, p) => makeCD(c, p, {
        yMin: 0.69, yMax: 17.53, yTicks: TREG_Y_TICKS, groups: [TREG_CONTROL, TREG_ANTIPD1, TREG_ERDA, TREG_COMBO],
        lo: TREG_LO, q1: TREG_Q1, med: TREG_MED, q3: TREG_Q3, hi: TREG_HI, p: TREG_P, pY: TREG_P_Y })} />
      <ChartCanvas rect={E_CANVAS} plot={E_PLOT} make={makeE} />
      <ChartCanvas rect={F_CANVAS} plot={F_PLOT} make={makeF} />
      <ChartCanvas rect={G_CANVAS} plot={G_PLOT} make={makeG} />
      <ChartCanvas rect={H_CANVAS} plot={H_PLOT} make={makeH} />

      {/* ---- Panel A text ---- */}
      <Txt x={3} y={16} size={15} bold>A</Txt>
      <Txt x={73} y={15} size={10.5}>Treatment</Txt>
      {A_TREATMENTS.map((t, k) => {
        const sx = k % 2 === 0 ? 131.5 : 196.5;
        const sy = k < 2 ? 15 : 29;
        return (
          <React.Fragment key={t}>
            <LegSym x={sx} y={sy} color={A_COLORS[k]} />
            <Txt x={sx + 8.5} y={sy} size={9}>{t}</Txt>
          </React.Fragment>
        );
      })}
      <Txt x={134} y={43} size={11} anchor="middle">Comparison</Txt>
      <Txt x={262} y={43} size={11} anchor="middle">Adjusted <i>P</i> value</Txt>
      <HLine x={59} y={51.5} w={144} />
      <HLine x={221} y={51.5} w={82} />
      {A_COMPARISONS.map((t, i) => (
        <React.Fragment key={t}>
          <Txt x={59} y={A_ROW_Y[i]} size={9.6}>{t}</Txt>
          <Txt x={244} y={A_ROW_Y[i]} size={9.6}>{pVal(A_ADJ_P[i])}</Txt>
        </React.Fragment>
      ))}
      <Txt x={224} y={271.5} size={12} anchor="middle">Days on treatment</Txt>
      <VTxt x={10} y={147} size={12}>Percent change from day 0</VTxt>

      {/* ---- Panel B text ---- */}
      <Txt x={430} y={15} size={15} bold>B</Txt>
      {B_LEGEND.map((t, k) => (
        <React.Fragment key={t}>
          <div style={{ position: 'absolute', left: 536, top: 13.3 + k * 13 - 5, width: 10, height: 10, background: B_COLORS[k] }} />
          <Txt x={551} y={13.3 + k * 13} size={10.5}>{t}</Txt>
        </React.Fragment>
      ))}
      <VTxt x={443} y={155} size={11.5}>Proportion</VTxt>

      {/* ---- Panel C / D text ---- */}
      <Txt x={3} y={305} size={15} bold>C</Txt>
      <Txt x={35} y={322.3} size={10.5}>T helper cells</Txt>
      <Txt x={35} y={334.3} size={10.5}>(CTL4<Sup>+</Sup>/CD3<Sup>+</Sup>/CD45<Sup>+</Sup>)</Txt>
      <Txt x={180} y={322.3} size={10.5}>CTL4<Sup>+</Sup> cells</Txt>
      <Txt x={180} y={334.3} size={10.5}>(CD4<Sup>+</Sup>)</Txt>
      <VTxt x={10} y={450} size={12.5}>% of CD45<Sup>+</Sup> cells</VTxt>
      <Txt x={295} y={307} size={15} bold>D</Txt>
      <Txt x={312.7} y={322.3} size={10.5}>Tregs</Txt>
      <Txt x={312.7} y={334.3} size={10.5}>(FOXP3<Sup>+</Sup>/CD4<Sup>+</Sup>/CD3<Sup>+</Sup>/CD45<Sup>+</Sup>)</Txt>

      {/* ---- Panel E text ---- */}
      <Txt x={469} y={306.7} size={15} bold>E</Txt>
      <VTxt x={475} y={453} size={11.5}>Proportion of immune cells</VTxt>
      <Txt x={670} y={340} size={11.5}>Cell type</Txt>
      {E_TYPES.map((t, k) => (
        <React.Fragment key={t}>
          <div style={{ position: 'absolute', left: 670, top: E_LEG_Y0 + k * E_LEG_DY - 4, width: 8, height: 8, background: E_COLORS[k] }} />
          <Txt x={682.5} y={E_LEG_Y0 + k * E_LEG_DY} size={10.6}>{t}</Txt>
        </React.Fragment>
      ))}
      <HLine x={521.7} y={598.5} w={61.6} color="#333" />
      <Txt x={555} y={608.5} size={10.5} anchor="middle">Control</Txt>
      <HLine x={593} y={598.5} w={64} color="#333" />
      <Txt x={625} y={608.5} size={10.5} anchor="middle">Erdafitinib</Txt>

      {/* ---- Panel F text ---- */}
      <Txt x={3} y={667} size={15} bold>F</Txt>
      <Txt x={32} y={698} size={10.5} italic>Icos</Txt>
      <VTxt x={9} y={783} size={10.5}>scRNAseq normalized expression</VTxt>
      <HLine x={40} y={875} w={41} color="#333" />
      <Txt x={60.5} y={885} size={11} anchor="middle">Control</Txt>
      <HLine x={99} y={875} w={39} color="#333" />
      <Txt x={119} y={885} size={11} anchor="middle">Erdafitinib</Txt>

      {/* ---- Panel G text ---- */}
      <Txt x={181} y={667} size={15} bold>G</Txt>
      <VTxt x={211.7} y={783} size={10.5}>Percent of Tregs proliferating</VTxt>

      {/* ---- Panel H text ---- */}
      <Txt x={430} y={668} size={15} bold>H</Txt>
      <VTxt x={401.7} y={782} size={12}>log<Sub>2</Sub> (norm reads + 1)</VTxt>
      <Txt x={471} y={902} size={10} anchor="end">Patient</Txt>
      {H_PATIENTS.map((t, k) => (
        <React.Fragment key={t}>
          <div style={{ position: 'absolute', left: H_LEG_X[k] - 4, top: 902 - 4, width: 8, height: 8, borderRadius: '50%', background: H_PT_COLORS[k] }} />
          <Txt x={H_LEG_X[k] + 5.5} y={902} size={10}>{t}</Txt>
        </React.Fragment>
      ))}
    </div>
  );
}
